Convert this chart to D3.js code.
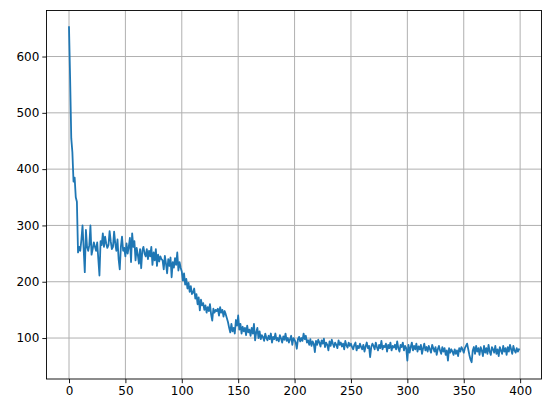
<!DOCTYPE html>
<html>
<head>
<meta charset="utf-8">
<script src="https://cdn.jsdelivr.net/npm/d3@7"></script>
<style>
  html, body { margin: 0; padding: 0; background: #fff; }
  svg { display: block; }
  text { font-family: "DejaVu Sans", sans-serif; }
</style>
</head>
<body>
<svg id="chart" width="552" height="413"></svg>
<script>
const values = [
  652, 560, 455, 430, 378, 385, 350, 342, 252, 262,
  255, 275, 300, 258, 217, 292, 262, 255, 265, 300,
  248, 258, 270, 262, 255, 270, 240, 211, 272, 265,
  286, 262, 280, 268, 260, 265, 290, 272, 258, 262,
  289, 268, 255, 275, 240, 222, 262, 280, 255, 260,
  245, 268, 250, 262, 278, 235, 286, 262, 272, 238,
  260, 248, 232, 258, 224, 255, 262, 250, 245, 258,
  240, 255, 245, 262, 230, 252, 238, 258, 228, 248,
  236, 245, 240, 238, 222, 246, 232, 215, 240, 228,
  243, 208, 235, 225, 242, 230, 252, 220, 235, 225,
  218, 202, 215, 195, 205, 188, 198, 182, 192, 178,
  181, 188, 170, 178, 160, 172, 149, 168, 158, 162,
  150, 158, 145, 155, 148, 160, 142, 131, 152, 145,
  150, 148, 152, 140, 155, 145, 150, 138, 148, 142,
  135, 128, 118, 110, 125, 112, 118, 108, 132, 122,
  140, 115, 125, 108, 120, 112, 118, 105, 122, 110,
  115, 104, 118, 108, 125, 96, 110, 118, 100, 112,
  98, 105, 102, 95, 108, 100, 96, 104, 98, 108,
  92, 102, 98, 108, 96, 100, 94, 105, 99, 92,
  103, 97, 108, 95, 100, 92, 98, 104, 88, 100,
  97, 92, 81, 98, 102, 94, 100, 95, 108, 98,
  104, 92, 96, 88, 98, 86, 94, 90, 75, 95,
  88, 97, 92, 85, 96, 90, 99, 84, 92, 88,
  78, 94, 86, 97, 90, 84, 92, 88, 82, 96,
  88, 92, 85, 90, 80, 95, 87, 83, 92, 86,
  90, 84, 80, 88, 92, 78, 86, 82, 90, 84,
  80, 88, 76, 85, 92, 82, 86, 66, 84, 90,
  86, 80, 92, 84, 78, 88, 82, 95, 80, 86,
  84, 90, 76, 88, 82, 92, 78, 86, 83, 88,
  80, 94, 82, 76, 88, 84, 92, 78, 86, 82,
  60, 88, 74, 84, 92, 78, 86, 80, 90, 76,
  85, 80, 88, 72, 82, 90, 78, 84, 76, 86,
  80, 74, 88, 82, 76, 84, 70, 80, 86, 78,
  72, 84, 76, 82, 70, 78, 60, 82, 74, 80,
  76, 70, 80, 72, 78, 68, 82, 76, 84, 80,
  74, 82, 86, 90, 80, 70, 62, 57, 78, 84,
  72, 86, 76, 82, 70, 84, 78, 68, 86, 74,
  82, 72, 88, 76, 70, 84, 80, 74, 86, 72,
  80, 68, 84, 78, 72, 86, 76, 82, 70, 84,
  76, 88, 80, 72, 86, 78, 74, 82, 76, 80
];
const xTicks = [0, 50, 100, 150, 200, 250, 300, 350, 400];
const yTicks = [100, 200, 300, 400, 500, 600];

const svg = d3.select("#chart");
const plot = { left: 46.5, right: 541.5, top: 10.5, bottom: 379 };

const n = values.length;
const xPad = (n - 1) * 0.05;
const x = d3.scaleLinear().domain([-xPad, (n - 1) + xPad]).range([plot.left, plot.right]);
const [ymin, ymax] = d3.extent(values);
const yPad = (ymax - ymin) * 0.05;
const y = d3.scaleLinear().domain([ymin - yPad, ymax + yPad]).range([plot.bottom, plot.top]);

svg.append("rect").attr("width", 552).attr("height", 413).attr("fill", "#fff");

// grid
const grid = svg.append("g");
grid.selectAll(".gx").data(xTicks).join("line")
  .attr("x1", d => x(d)).attr("x2", d => x(d))
  .attr("y1", plot.top).attr("y2", plot.bottom)
  .attr("stroke", "#b0b0b0").attr("stroke-width", 1);
grid.selectAll(".gy").data(yTicks).join("line")
  .attr("x1", plot.left).attr("x2", plot.right)
  .attr("y1", d => y(d)).attr("y2", d => y(d))
  .attr("stroke", "#b0b0b0").attr("stroke-width", 1);

// line
const line = d3.line().x((d, i) => x(i)).y(d => y(d));
svg.append("path").datum(values)
  .attr("d", line)
  .attr("fill", "none")
  .attr("stroke", "#1f77b4")
  .attr("stroke-width", 1.8)
  .attr("stroke-linejoin", "round")
  .attr("stroke-linecap", "square");

// axes
const xAxis = d3.axisBottom(x).tickValues(xTicks).tickSize(4.2).tickPadding(3).tickSizeOuter(0);
const yAxis = d3.axisLeft(y).tickValues(yTicks).tickSize(4.2).tickPadding(3).tickSizeOuter(0);
const gx = svg.append("g").attr("transform", `translate(0,${plot.bottom})`).call(xAxis);
const gy = svg.append("g").attr("transform", `translate(${plot.left},0)`).call(yAxis);
[gx, gy].forEach(g => {
  g.select(".domain").remove();
  g.selectAll("line").attr("stroke", "#000").attr("stroke-width", 0.9);
  g.selectAll("text").attr("fill", "#000").style("font-size", "12px").style("font-family", "'DejaVu Sans', sans-serif");
});

// spines
svg.append("rect")
  .attr("x", plot.left).attr("y", plot.top)
  .attr("width", plot.right - plot.left).attr("height", plot.bottom - plot.top)
  .attr("fill", "none").attr("stroke", "#000").attr("stroke-width", 0.9);
</script>
</body>
</html>
